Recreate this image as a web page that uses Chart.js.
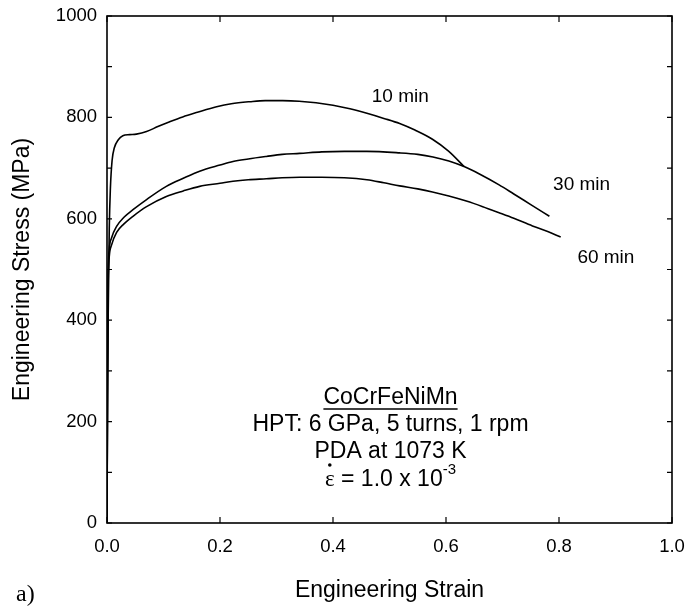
<!DOCTYPE html>
<html>
<head>
<meta charset="utf-8">
<script src="https://cdn.jsdelivr.net/npm/chart.js@4.4.0/dist/chart.umd.min.js"></script>
<style>
  html, body { margin: 0; padding: 0; background: #fff; }
  #wrap { width: 689px; height: 610px; position: relative; }
</style>
</head>
<body>
<div id="wrap"><canvas id="grafico"></canvas></div>
<script>
// datos (deformacion, esfuerzo MPa)
const strain10 = [0, 0.001, 0.002, 0.004, 0.006, 0.009, 0.013, 0.02, 0.028, 0.04, 0.052, 0.07, 0.09, 0.11, 0.134, 0.16, 0.194, 0.22, 0.253, 0.28, 0.311, 0.34, 0.37, 0.4, 0.43, 0.46, 0.49, 0.518, 0.545, 0.576, 0.605, 0.632];
const stress10 = [0, 250, 400, 580, 660, 715, 740, 756, 764, 766, 767, 772, 782, 791, 801, 810, 821, 827, 831, 833, 833, 832, 829, 824, 817, 808, 798, 788, 775, 757, 733, 703];

const strain30 = [0, 0.001, 0.002, 0.004, 0.008, 0.017, 0.03, 0.046, 0.07, 0.105, 0.135, 0.164, 0.2, 0.223, 0.25, 0.282, 0.31, 0.341, 0.38, 0.42, 0.46, 0.518, 0.55, 0.577, 0.605, 0.632, 0.66, 0.694, 0.72, 0.75, 0.783];
const stress30 = [0, 300, 480, 540, 562, 585, 603, 618, 638, 664, 680, 694, 706, 713, 718, 723, 727, 729, 732, 733, 733, 730, 727, 722, 714, 703, 688, 667, 649, 628, 605];

const strain60 = [0, 0.001, 0.002, 0.004, 0.008, 0.017, 0.03, 0.046, 0.07, 0.105, 0.135, 0.164, 0.2, 0.223, 0.25, 0.282, 0.31, 0.341, 0.38, 0.42, 0.46, 0.49, 0.518, 0.55, 0.576, 0.605, 0.636, 0.665, 0.694, 0.72, 0.753, 0.78, 0.803];
const stress60 = [0, 300, 470, 526, 548, 573, 590, 605, 624, 644, 655, 664, 670, 674, 677, 679, 681, 682, 682, 681, 677, 671, 665, 659, 653, 645, 635, 624, 612, 601, 586, 575, 564];

const xTicks = [0, 0.2, 0.4, 0.6, 0.8, 1.0];
const yTicks = [0, 100, 200, 300, 400, 500, 600, 700, 800, 900, 1000];

// etiquetas de curvas: [texto, deformacion, esfuerzo]
const curveLabels = [
  ['10 min', 0.519, 840],
  ['30 min', 0.84, 667],
  ['60 min', 0.883, 523]
];
const notaLineas = ['CoCrFeNiMn', 'HPT: 6 GPa, 5 turns, 1 rpm', 'PDA at 1073 K'];

const FONT = '"Liberation Sans", Arial, Helvetica, sans-serif';

function toXY(xs, ys) {
  return xs.map((x, i) => ({ x: x, y: ys[i] }));
}

function serie(label, xs, ys) {
  return {
    label: label,
    data: toXY(xs, ys),
    borderColor: '#000',
    borderWidth: 1.6,
    pointRadius: 0,
    fill: false,
    cubicInterpolationMode: 'monotone'
  };
}

// marco, ticks hacia adentro y textos
const extras = {
  id: 'extras',
  afterDraw(chart) {
    const ctx = chart.ctx;
    const a = chart.chartArea;
    const sx = chart.scales.x, sy = chart.scales.y;
    ctx.save();
    ctx.strokeStyle = '#000';
    ctx.lineWidth = 1.6;
    ctx.strokeRect(a.left, a.top, a.right - a.left, a.bottom - a.top);

    ctx.lineWidth = 1.2;
    ctx.beginPath();
    xTicks.forEach(v => {
      const px = sx.getPixelForValue(v);
      ctx.moveTo(px, a.bottom); ctx.lineTo(px, a.bottom - 6);
      ctx.moveTo(px, a.top); ctx.lineTo(px, a.top + 6);
    });
    yTicks.forEach(v => {
      const py = sy.getPixelForValue(v);
      ctx.moveTo(a.left, py); ctx.lineTo(a.left + 5, py);
      ctx.moveTo(a.right, py); ctx.lineTo(a.right - 5, py);
    });
    ctx.stroke();

    ctx.fillStyle = '#000';
    ctx.textBaseline = 'middle';
    ctx.textAlign = 'center';
    ctx.font = '19px ' + FONT;
    curveLabels.forEach(l => {
      ctx.fillText(l[0], sx.getPixelForValue(l[1]), sy.getPixelForValue(l[2]));
    });

    // bloque de notas
    const cx = (a.left + a.right) / 2 + 1;
    ctx.font = '23px ' + FONT;
    const y0 = 398;
    notaLineas.forEach((t, i) => ctx.fillText(t, cx, y0 + i * 27));
    const w0 = ctx.measureText(notaLineas[0]).width;
    ctx.lineWidth = 1.3;
    ctx.beginPath();
    ctx.moveTo(cx - w0 / 2, y0 + 11); ctx.lineTo(cx + w0 / 2, y0 + 11);
    ctx.stroke();

    // epsilon punto
    const yE = y0 + 3 * 27 + 1;
    const base = ' = 1.0 x 10';
    ctx.font = '23px ' + FONT;
    const wB = ctx.measureText(base).width;
    ctx.font = '23px "Liberation Serif", "Times New Roman", serif';
    const wE = ctx.measureText('ε').width;
    ctx.font = '15px ' + FONT;
    const wS = ctx.measureText('-3').width;
    let x = cx - (wE + wB + wS) / 2;
    ctx.textAlign = 'left';
    ctx.font = '23px "Liberation Serif", "Times New Roman", serif';
    ctx.fillText('ε', x, yE);
    ctx.beginPath();
    ctx.arc(x + wE / 2, yE - 15, 1.8, 0, Math.PI * 2);
    ctx.fill();
    x += wE;
    ctx.font = '23px ' + FONT;
    ctx.fillText(base, x, yE);
    x += wB;
    ctx.font = '15px ' + FONT;
    ctx.fillText('-3', x, yE - 10);

    // a)
    ctx.font = '24px "Liberation Serif", "Times New Roman", serif';
    ctx.textBaseline = 'alphabetic';
    ctx.fillText('a)', 16, 601);
    ctx.restore();
  }
};

new Chart(document.getElementById('grafico').getContext('2d'), {
  type: 'line',
  data: {
    datasets: [
      serie('10 min', strain10, stress10),
      serie('30 min', strain30, stress30),
      serie('60 min', strain60, stress60)
    ]
  },
  options: {
    responsive: true,
    maintainAspectRatio: false,
    animation: false,
    layout: { padding: { left: 0, top: 16, right: 17, bottom: 0 } },
    plugins: {
      legend: { display: false },
      tooltip: { enabled: false }
    },
    scales: {
      x: {
        type: 'linear',
        min: 0,
        max: 1,
        grid: { display: false, drawTicks: false },
        border: { display: false },
        afterBuildTicks: s => { s.ticks = xTicks.map(v => ({ value: v })); },
        afterFit: s => { s.height = 87; s.paddingLeft = 0; s.paddingRight = 0; },
        ticks: {
          color: '#000',
          padding: 13,
          maxRotation: 0,
          font: { family: FONT, size: 18.5 },
          callback: v => v.toFixed(1)
        },
        title: {
          display: true,
          text: 'Engineering Strain',
          color: '#000',
          padding: { top: 0, bottom: 6 },
          font: { family: FONT, size: 23 }
        }
      },
      y: {
        min: 0,
        max: 1000,
        grid: { display: false, drawTicks: false },
        border: { display: false },
        afterBuildTicks: s => { s.ticks = yTicks.map(v => ({ value: v })); },
        afterFit: s => { s.width = 107; s.paddingTop = 0; s.paddingBottom = 0; },
        ticks: {
          color: '#000',
          padding: 10,
          font: { family: FONT, size: 18.5 },
          callback: v => (v % 200 === 0 ? String(v) : '')
        },
        title: {
          display: true,
          text: 'Engineering Stress (MPa)',
          color: '#000',
          padding: { top: 9, bottom: 0 },
          font: { family: FONT, size: 23 }
        }
      }
    }
  },
  plugins: [extras]
});
</script>
</body>
</html>
